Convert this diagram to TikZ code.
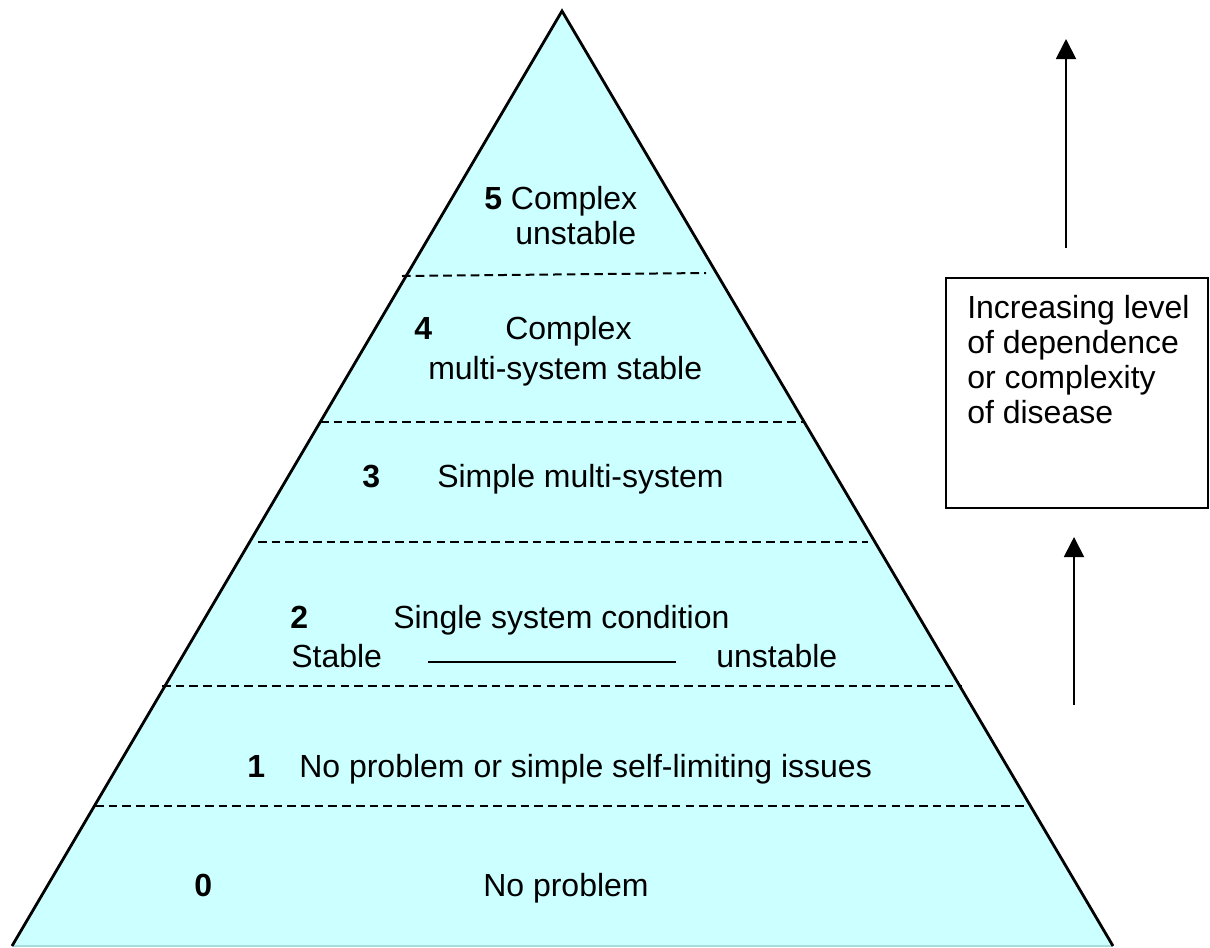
\documentclass[tikz,border=0pt]{standalone}
\usepackage{fontspec}
\setmainfont{Liberation Sans}
\usetikzlibrary{arrows.meta}
\definecolor{pyrfill}{HTML}{CCFFFF}
\definecolor{pyrbase}{HTML}{A6DCDC}
\begin{document}
\begin{tikzpicture}[x=0.75pt,y=-0.75pt,
  lbl/.style={inner sep=0pt,anchor=base west,font=\fontsize{24}{26.3}\selectfont},
  divider/.style={draw=black,line width=1.5pt,dash pattern=on 6.5pt off 3.8pt},
  riser/.style={draw=black,line width=1.4pt,-{Triangle[length=15pt,width=15pt]}}]
\useasboundingbox (0,0) rectangle (1210,947);

% pyramid body
\coordinate (apex) at (562,11);
\coordinate (bl) at (12,946);
\coordinate (br) at (1113,946);
\fill[pyrfill] (bl) -- (apex) -- (br) -- cycle;
\draw[pyrbase,line width=1.2pt] (bl) -- (br);
\draw[black,line width=2.1pt,line join=miter] (bl) -- (apex) -- (br);

% level dividers
\coordinate (d5a) at (402,276); \coordinate (d5b) at (706,273);
\coordinate (d4a) at (320,422); \coordinate (d4b) at (803,422);
\coordinate (d3a) at (258,542); \coordinate (d3b) at (868,542);
\coordinate (d2a) at (162,686); \coordinate (d2b) at (962,686);
\coordinate (d1a) at (95,806);  \coordinate (d1b) at (1027,806);
\draw[divider] (d5a) -- (d5b);
\draw[divider] (d4a) -- (d4b);
\draw[divider] (d3a) -- (d3b);
\draw[divider] (d2a) -- (d2b);
\draw[divider] (d1a) -- (d1b);

% level 5
\node[lbl] (l5a) at (484,209) {\textbf{5} Complex};
\node[lbl] (l5b) at (515,244) {unstable};
% level 4
\node[lbl] (n4) at (414,339) {\textbf{4}};
\node[lbl] (l4a) at (505,339) {Complex};
\node[lbl] (l4b) at (428,379) {multi-system stable};
% level 3
\node[lbl] (n3) at (362,487) {\textbf{3}};
\node[lbl] (l3) at (437,487) {Simple multi-system};
% level 2
\node[lbl] (n2) at (290,628) {\textbf{2}};
\node[lbl] (l2a) at (393,628) {Single system condition};
\node[lbl] (l2s) at (291,667) {Stable};
\node[lbl] (l2u) at (716,667) {unstable};
\coordinate (u1) at (428,662);
\coordinate (u2) at (676,662);
\draw[black,line width=1.3pt] (u1) -- (u2);
% level 1
\node[lbl] (n1) at (247,777) {\textbf{1}};
\node[lbl] (l1) at (299,777) {No problem or simple self-limiting issues};
% level 0
\node[lbl] (n0) at (194,896) {\textbf{0}};
\node[lbl] (l0) at (483,896) {No problem};

% legend box
\draw[black,line width=1.3pt] (946,278) rectangle (1208,508);
\node[lbl,align=left,anchor=north west] (legend) at (967,295)
  {Increasing level\\of dependence\\or complexity\\of disease};

% direction arrows
\coordinate (a1s) at (1066,248); \coordinate (a1e) at (1066,39);
\coordinate (a2s) at (1074,705); \coordinate (a2e) at (1074,537);
\draw[riser] (a1s) -- (a1e);
\draw[riser] (a2s) -- (a2e);
\end{tikzpicture}
\end{document}
